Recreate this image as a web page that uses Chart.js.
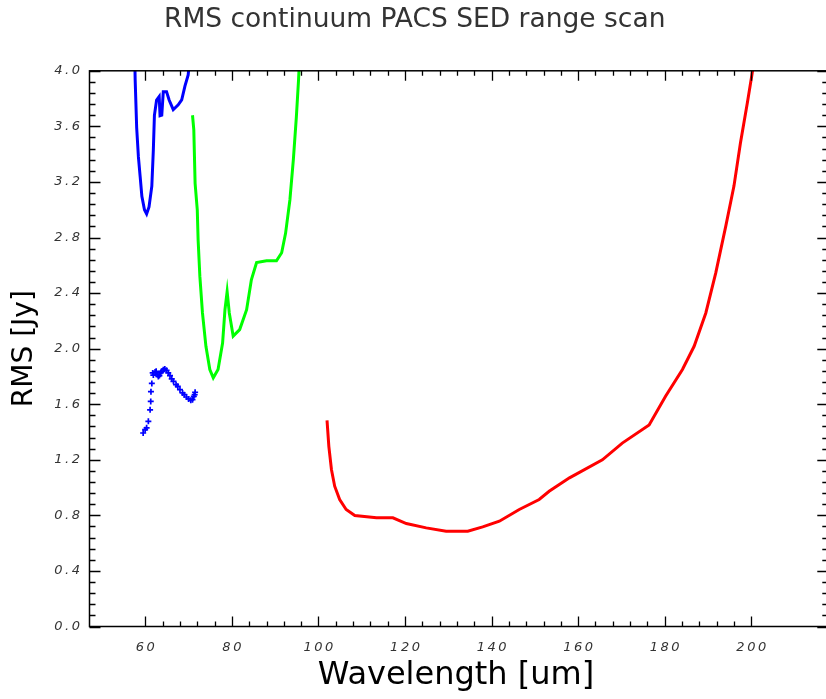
<!DOCTYPE html>
<html>
<head>
<meta charset="utf-8">
<title>RMS continuum PACS SED range scan</title>
<script src="https://cdn.jsdelivr.net/npm/chart.js@4.4.0/dist/chart.umd.min.js"></script>
<style>
  html, body { margin: 0; padding: 0; background: #fff; overflow: hidden; }
</style>
</head>
<body>
<canvas id="chart" width="834" height="699"></canvas>
<script>
// values
const blueUpperWl = [57.5, 57.65, 58.0, 58.4, 58.8, 59.2, 59.8, 60.3, 60.85, 61.5, 61.85, 62.1, 62.6, 63.2, 63.4, 63.8, 64.15, 64.9, 65.5, 66.45, 67.6, 68.4, 69.15, 69.9, 70.3];
const blueUpperRms = [4.2, 3.935, 3.59, 3.38, 3.24, 3.096, 3.0, 2.97, 3.02, 3.17, 3.43, 3.68, 3.79, 3.815, 3.676, 3.68, 3.85, 3.85, 3.79, 3.72, 3.755, 3.79, 3.89, 3.97, 4.1];

const blueLowerWl = [59.5, 59.95, 60.3, 60.7, 61.1, 61.25, 61.3, 61.5, 61.7, 61.85, 62.25, 62.5, 62.8, 63.0, 63.25, 63.55, 63.8, 64.15, 64.5, 64.9, 65.3, 65.7, 66.1, 66.5, 67.1, 67.5, 68.0, 68.6, 69.0, 69.5, 70.0, 70.5, 70.9, 71.2, 71.4, 71.5];
const blueLowerRms = [1.393, 1.417, 1.43, 1.477, 1.56, 1.62, 1.69, 1.75, 1.825, 1.81, 1.832, 1.837, 1.813, 1.80, 1.806, 1.825, 1.837, 1.849, 1.854, 1.844, 1.825, 1.806, 1.782, 1.765, 1.741, 1.729, 1.705, 1.681, 1.669, 1.652, 1.638, 1.628, 1.633, 1.657, 1.669, 1.686];

const greenWl = [70.9, 71.2, 71.5, 72.0, 72.2, 72.6, 73.2, 74.0, 74.9, 75.7, 76.8, 77.85, 78.4, 78.9, 79.4, 80.3, 81.8, 83.4, 84.5, 85.7, 88.0, 90.3, 91.5, 92.4, 93.4, 94.2, 94.9, 95.4, 95.8];
const greenRms = [3.68, 3.575, 3.19, 3.0, 2.78, 2.52, 2.257, 2.017, 1.85, 1.79, 1.85, 2.04, 2.28, 2.41, 2.257, 2.09, 2.137, 2.28, 2.496, 2.62, 2.633, 2.633, 2.69, 2.83, 3.07, 3.36, 3.67, 3.935, 4.2];

const redWl = [101.98, 102.4, 103.0, 103.75, 104.9, 106.4, 108.4, 113.4, 117.2, 120.3, 124.9, 129.5, 134.5, 137.95, 141.8, 146.4, 151.0, 153.3, 158, 165.6, 170.2, 176.4, 180.2, 184.1, 186.8, 189.5, 191.8, 194.1, 196.0, 197.5, 199.1, 200.2, 201];
const redRms = [1.484, 1.297, 1.13, 1.01, 0.914, 0.842, 0.799, 0.782, 0.782, 0.741, 0.710, 0.686, 0.686, 0.717, 0.758, 0.842, 0.914, 0.973, 1.07, 1.20, 1.32, 1.45, 1.657, 1.85, 2.017, 2.257, 2.545, 2.88, 3.17, 3.48, 3.77, 3.98, 4.15];

const xTickLabels = [60, 80, 100, 120, 140, 160, 180, 200];
const yTickLabels = ['0.0', '0.4', '0.8', '1.2', '1.6', '2.0', '2.4', '2.8', '3.2', '3.6', '4.0'];

const toPoints = (xs, ys) => xs.map((x, i) => ({ x: x, y: ys[i] }));

// draws text char by char with extra spacing (the labels are spread out)
function spacedWidth(ctx, text, sp) {
  let w = 0;
  for (const c of text) w += ctx.measureText(c).width + sp;
  return w - sp;
}
function drawSpaced(ctx, text, x, y, sp) {
  for (const c of text) {
    ctx.fillText(c, x, y);
    x += ctx.measureText(c).width + sp;
  }
}

// frame, inward ticks on all four sides, tick labels, axis titles
const framePlugin = {
  id: 'frame',
  afterDraw(chart) {
    const { ctx, chartArea: a, scales } = chart;
    const xs = scales.x, ys = scales.y;
    ctx.save();
    ctx.strokeStyle = '#000';
    ctx.lineWidth = 1.5;
    ctx.strokeRect(a.left, a.top, a.right - a.left, a.bottom - a.top);

    ctx.lineWidth = 1.3;
    ctx.beginPath();
    for (let v = 60; v <= 200; v += 4) {
      const px = Math.round(xs.getPixelForValue(v)) + 0.5;
      const len = v % 20 === 0 ? 10 : 5;
      ctx.moveTo(px, a.bottom); ctx.lineTo(px, a.bottom - len);
      ctx.moveTo(px, a.top); ctx.lineTo(px, a.top + len);
    }
    for (let i = 0; i <= 50; i++) {
      const py = Math.round(ys.getPixelForValue(i * 0.08)) + 0.5;
      const len = i % 5 === 0 ? 11 : 6;
      ctx.moveTo(a.left, py); ctx.lineTo(a.left + len, py);
      ctx.moveTo(a.right, py); ctx.lineTo(a.right - len, py);
    }
    ctx.stroke();

    // tick labels
    ctx.fillStyle = '#333';
    ctx.font = 'italic 13px "DejaVu Sans"';
    ctx.textBaseline = 'middle';
    ctx.textAlign = 'left';
    const sp = 2.5;
    xTickLabels.forEach(v => {
      const t = String(v);
      const w = spacedWidth(ctx, t, sp);
      drawSpaced(ctx, t, xs.getPixelForValue(v) - w / 2, 648, sp);
    });
    yTickLabels.forEach(t => {
      const w = spacedWidth(ctx, t, sp);
      drawSpaced(ctx, t, 80 - w, ys.getPixelForValue(parseFloat(t)), sp);
    });

    // axis titles
    ctx.fillStyle = '#000';
    ctx.textAlign = 'center';
    ctx.font = '32px "DejaVu Sans"';
    ctx.fillText('Wavelength [um]', 456, 676);
    ctx.save();
    ctx.translate(25, (a.top + a.bottom) / 2);
    ctx.rotate(-Math.PI / 2);
    ctx.font = '28px "DejaVu Sans"';
    ctx.fillText('RMS [Jy]', 0, 0);
    ctx.restore();
    ctx.restore();
  }
};

new Chart(document.getElementById('chart'), {
  type: 'line',
  data: {
    datasets: [
      {
        label: 'blue',
        data: toPoints(blueUpperWl, blueUpperRms),
        borderColor: '#0000ff',
        borderWidth: 3,
        pointRadius: 0,
        tension: 0,
        clip: 0
      },
      {
        label: 'blue points',
        data: toPoints(blueLowerWl, blueLowerRms),
        showLine: false,
        borderColor: '#0000ff',
        backgroundColor: '#0000ff',
        pointStyle: 'cross',
        pointRadius: 3,
        pointBorderWidth: 1.7,
        clip: 0
      },
      {
        label: 'green',
        data: toPoints(greenWl, greenRms),
        borderColor: '#00ff00',
        borderWidth: 3,
        pointRadius: 0,
        tension: 0,
        clip: 0
      },
      {
        label: 'red',
        data: toPoints(redWl, redRms),
        borderColor: '#ff0000',
        borderWidth: 3,
        pointRadius: 0,
        tension: 0,
        clip: 0
      }
    ]
  },
  options: {
    responsive: false,
    animation: false,
    events: [],
    layout: { padding: { left: 0, right: 4.5, top: 0, bottom: 0 } },
    scales: {
      x: {
        type: 'linear',
        min: 47.1,
        max: 217.8,
        grid: { display: false },
        border: { display: false },
        ticks: { display: false },
        afterFit(scale) { scale.height = 72.5; }
      },
      y: {
        type: 'linear',
        min: 0,
        max: 4,
        grid: { display: false },
        border: { display: false },
        ticks: { display: false },
        afterFit(scale) { scale.width = 89.5; }
      }
    },
    plugins: {
      legend: { display: false },
      tooltip: { enabled: false },
      title: {
        display: true,
        text: 'RMS continuum PACS SED range scan',
        color: '#333',
        font: { family: '"DejaVu Sans"', size: 26.5, weight: 'normal' },
        padding: { top: 4, bottom: 35 }
      }
    }
  },
  plugins: [framePlugin]
});
</script>
</body>
</html>
